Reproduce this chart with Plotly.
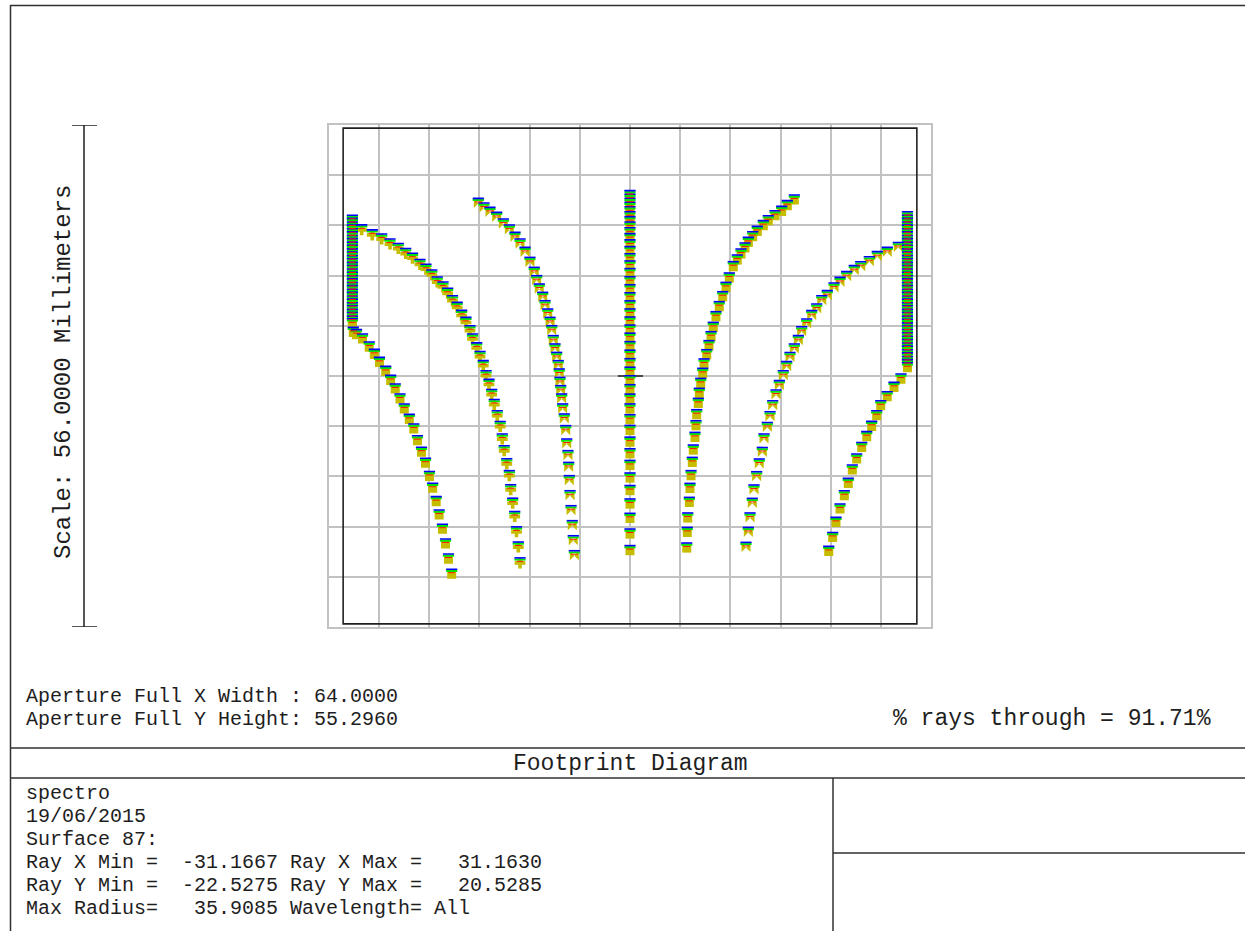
import plotly.graph_objects as go

W, H = 1245, 931

# ---- footprint ray positions on surface 87 (mm) ----
# left clipped edge column
edge_l_x = [-30.97, -30.97, -30.97, -30.97, -30.97, -30.97, -30.97, -30.97,
            -30.97, -30.97, -30.97, -30.97, -30.97, -30.97, -30.97, -30.97,
            -30.97, -30.97, -30.97, -30.97, -30.97, -30.97, -30.97, -30.97,
            -30.97, -30.97, -30.97, -30.97, -30.97, -30.97, -30.97, -30.97]
edge_l_y = [17.45, 17.1, 16.7, 16.35, 15.95, 15.6, 15.2, 14.85, 14.45, 14.1,
            13.7, 13.35, 12.95, 12.6, 12.2, 11.85, 11.45, 11.1, 10.7, 10.35,
            9.95, 9.6, 9.2, 8.85, 8.45, 8.1, 7.7, 7.35, 6.95, 6.6, 6.2, 5.9]

# order 1 (lower left)
ord1_x = [-30.87, -30.51, -29.84, -29.09, -28.52, -27.95, -27.25, -26.70,
          -26.19, -25.66, -25.18, -24.62, -24.12, -23.71, -23.26, -22.81,
          -22.37, -22.01, -21.62, -21.29, -20.92, -20.58, -20.25, -19.89]
ord1_y = [4.94, 4.69, 4.21, 3.31, 2.49, 1.60, 0.59, -0.41, -1.37, -2.49,
          -3.60, -4.76, -5.83, -7.14, -8.42, -9.65, -11.13, -12.44, -13.94,
          -15.43, -17.01, -18.66, -20.34, -22.03]

# order 2 (upper left)
ord2_x = [-29.93, -28.75, -27.70, -26.77, -25.85, -25.02, -24.26, -23.43,
          -22.76, -22.11, -21.50, -20.86, -20.34, -19.80, -19.28, -18.78,
          -18.30, -17.85, -17.57, -17.10, -16.73, -16.37, -16.06, -15.73,
          -15.43, -15.14, -14.81, -14.48, -14.25, -14.03, -13.75, -13.46,
          -13.31, -13.09, -12.86, -12.66, -12.46, -12.27]
ord2_y = [16.38, 15.82, 15.36, 14.80, 14.30, 13.74, 13.22, 12.52, 11.99,
          11.35, 10.56, 10.01, 9.31, 8.48, 7.73, 6.84, 6.06, 5.13, 4.21, 3.21,
          2.25, 1.23, 0.11, -0.86, -1.99, -3.10, -4.35, -5.56, -6.95, -8.26,
          -9.71, -11.04, -12.61, -14.11, -15.60, -17.31, -19.00, -20.77]

# order 3 (inner left)
ord3_x = [-16.92, -16.29, -15.62, -14.87, -14.13, -13.46, -12.83, -12.27,
          -11.71, -11.16, -10.68, -10.41, -10.12, -9.74, -9.48, -9.18, -8.92,
          -8.73, -8.56, -8.37, -8.18, -8.00, -7.89, -7.81, -7.73, -7.62,
          -7.51, -7.33, -7.17, -7.06, -6.92, -6.84, -6.77, -6.69, -6.58,
          -6.44, -6.33, -6.21]
ord3_y = [19.33, 18.82, 18.33, 17.77, 17.03, 16.37, 15.54, 14.80, 13.87,
          12.75, 11.64, 10.71, 9.78, 8.85, 7.92, 6.99, 6.06, 5.13, 4.02, 3.09,
          2.15, 1.23, 0.30, -0.64, -1.56, -2.49, -3.60, -4.72, -6.02, -7.51,
          -8.81, -10.12, -11.60, -13.28, -14.95, -16.62, -18.30, -19.97]

# order 4 (on axis)
ord4_x = [0.0, 0.0, 0.0, 0.0, 0.0, 0.0, 0.0, 0.0, 0.0, 0.0, 0.0, 0.0, 0.0,
          0.0, 0.0, 0.0, 0.0, 0.0, 0.0, 0.0, 0.0, 0.0, 0.0, 0.0, 0.0, 0.0,
          0.0, 0.0, 0.0, 0.0, 0.0, 0.0, 0.0, 0.0, 0.0, 0.0, 0.0, 0.0, 0.0,
          0.0, 0.0, 0.0]
ord4_y = [20.2, 19.8, 19.35, 18.9, 18.4, 17.85, 17.3, 16.7, 16.05, 15.4,
          14.7, 13.95, 13.15, 12.35, 11.5, 10.6, 9.7, 8.8, 7.9, 7.0, 6.1, 5.2,
          4.3, 3.35, 2.4, 1.45, 0.5, -0.45, -1.45, -2.5, -3.6, -4.8, -6.0,
          -7.3, -8.6, -9.9, -11.3, -12.7, -14.2, -15.8, -17.55, -19.4]

# order 5 (inner right)
ord5_x = [18.33, 17.55, 16.92, 16.18, 15.43, 14.87, 14.20, 13.69, 13.20,
          12.83, 12.38, 11.97, 11.52, 11.08, 10.71, 10.34, 9.96, 9.59, 9.29,
          9.04, 8.81, 8.56, 8.26, 8.11, 7.89, 7.73, 7.62, 7.44, 7.36, 7.25,
          7.06, 6.95, 6.81, 6.69, 6.62, 6.44, 6.39, 6.33]
ord5_y = [19.71, 19.08, 18.44, 17.96, 17.40, 16.85, 16.21, 15.62, 14.98,
          14.36, 13.69, 13.02, 12.27, 11.01, 9.96, 8.92, 7.81, 6.69, 5.50,
          4.46, 3.46, 2.45, 1.42, 0.37, -0.75, -1.86, -2.98, -4.24, -5.47,
          -6.77, -8.18, -9.56, -11.04, -12.46, -14.02, -15.76, -17.37, -19.11]

# order 6 (upper right)
ord6_x = [29.93, 28.70, 27.59, 26.70, 25.74, 25.02, 24.17, 23.43, 22.76,
          22.01, 21.39, 20.83, 20.27, 19.71, 19.15, 18.78, 18.33, 17.85,
          17.48, 17.10, 16.66, 16.29, 15.92, 15.62, 15.32, 14.95, 14.76,
          14.42, 14.13, 13.83, 13.64, 13.39, 13.20, 12.94]
ord6_y = [14.42, 13.87, 13.39, 12.83, 12.27, 11.83, 11.16, 10.52, 9.90, 9.04,
          8.48, 7.55, 6.81, 5.88, 5.02, 4.02, 3.09, 2.15, 1.12, 0.11, -1.00,
          -2.04, -3.24, -4.46, -5.66, -6.95, -8.45, -9.74, -11.16, -12.64,
          -14.13, -15.76, -17.37, -19.04]

# right clipped edge column
edge_r_x = [30.95, 30.95, 30.95, 30.95, 30.95, 30.95, 30.95, 30.95, 30.95,
            30.95, 30.95, 30.95, 30.95, 30.95, 30.95, 30.95, 30.95, 30.95,
            30.95, 30.95, 30.95, 30.95, 30.95, 30.95, 30.95, 30.95, 30.95,
            30.95, 30.95, 30.95, 30.95, 30.95, 30.95, 30.95, 30.95, 30.95,
            30.95, 30.95, 30.95, 30.95, 30.95, 30.95, 30.95, 30.95, 30.95,
            30.95]
edge_r_y = [17.85, 17.45, 17.1, 16.7, 16.35, 15.95, 15.6, 15.2, 14.85, 14.45,
            14.1, 13.7, 13.35, 12.95, 12.6, 12.2, 11.85, 11.45, 11.1, 10.7,
            10.35, 9.95, 9.6, 9.2, 8.85, 8.45, 8.1, 7.7, 7.35, 6.95, 6.6, 6.2,
            5.85, 5.45, 5.1, 4.7, 4.35, 3.95, 3.6, 3.2, 2.85, 2.45, 2.1, 1.7,
            1.35, 1.0]

# order 7 (lower right)
ord7_x = [30.23, 29.45, 28.70, 27.97, 27.52, 26.96, 26.41, 25.85, 25.29,
          24.80, 24.35, 23.91, 23.43, 22.98, 22.61, 22.17]
ord7_y = [-0.26, -1.19, -2.23, -3.24, -4.35, -5.54, -6.69, -7.89, -9.18,
          -10.41, -11.90, -13.28, -14.76, -16.25, -17.93, -19.49]

# ---- text ----
scale_label = "Scale: 56.0000 Millimeters"
aperture_lines = ["Aperture Full X Width : 64.0000",
                  "Aperture Full Y Height: 55.2960"]
rays_through = "% rays through = 91.71%"
title_text = "Footprint Diagram"
info_lines = ["spectro",
              "19/06/2015",
              "Surface 87:",
              "Ray X Min =  -31.1667 Ray X Max =   31.1630",
              "Ray Y Min =  -22.5275 Ray Y Max =   20.5285",
              "Max Radius=   35.9085 Wavelength= All"]

APER_HALF_X = 32.0
APER_HALF_Y = 27.648
GRID_STEP = 5.6
X_HALF = 33.6
Y_HALF = 28.0

# plot box in screen pixels
PLOT_L, PLOT_R = 328.8, 931.2
PLOT_T, PLOT_B = 125.0, 627.0
PX = (2 * Y_HALF) / (PLOT_B - PLOT_T)   # mm per screen pixel

OLIVE = "#c6bd00"
GREEN = "#00e600"
BLUE = "#0000ff"
RED = "#ff1a00"
FONT = "Liberation Mono"
INK = "#1e1e1e"


def px_x(p):
    return p / W


def px_y(p):
    return 1 - p / H


curves = [
    (edge_l_x, edge_l_y, "square"),
    (ord1_x, ord1_y, "square"),
    (ord2_x, ord2_y, "cross"),
    (ord3_x, ord3_y, "bowtie"),
    (ord4_x, ord4_y, "square"),
    (ord5_x, ord5_y, "square"),
    (ord6_x, ord6_y, "bowtie"),
    (edge_r_x, edge_r_y, "square"),
    (ord7_x, ord7_y, "square"),
]

fig = go.Figure()


def add_layer(xs, ys, dy_px, marker):
    fig.add_trace(go.Scatter(
        x=xs, y=[v + dy_px * PX for v in ys], mode="markers",
        marker=marker, hoverinfo="skip", showlegend=False))


# body of each spot symbol
for xs, ys, sym in curves:
    add_layer(xs, ys, -0.8, dict(symbol=sym, size=9, color=OLIVE,
                                 line=dict(width=0)))
# wavelength colour bands on top of each spot
for xs, ys, sym in curves:
    add_layer(xs, ys, 2.6, dict(symbol="line-ew", size=8,
                                line=dict(color=GREEN, width=2)))
for xs, ys, sym in curves:
    add_layer(xs, ys, 4.3, dict(symbol="line-ew", size=8,
                                line=dict(color=BLUE, width=1.6)))
for xs, ys, sym in curves:
    add_layer(xs, ys, 0.8, dict(symbol="line-ew", size=5,
                                line=dict(color=RED, width=1)))

shapes = []
# aperture outline
shapes.append(dict(type="rect", xref="x", yref="y", layer="between",
                   x0=-APER_HALF_X, x1=APER_HALF_X,
                   y0=-APER_HALF_Y, y1=APER_HALF_Y,
                   line=dict(color="#202020", width=1.6)))
# centre cross
shapes.append(dict(type="line", xref="x", yref="y", layer="between",
                   x0=-1.35, x1=1.45, y0=0, y1=0,
                   line=dict(color="#202020", width=1.5)))
shapes.append(dict(type="line", xref="x", yref="y", layer="between",
                   x0=0, x1=0, y0=-1.4, y1=1.4,
                   line=dict(color="#202020", width=1.5)))

# scale bar, 56 mm tall in plot units
bar_x = px_x(84)
shapes.append(dict(type="line", xref="paper", yref="y", x0=bar_x, x1=bar_x,
                   y0=-Y_HALF, y1=Y_HALF, line=dict(color=INK, width=1.5)))
for yy in (-Y_HALF, Y_HALF):
    shapes.append(dict(type="line", xref="paper", yref="y",
                       x0=px_x(72), x1=px_x(97), y0=yy, y1=yy,
                       line=dict(color=INK, width=1.5)))

# page frame and title block rules
frame = dict(color="#303030", width=1.5)
shapes.append(dict(type="line", xref="paper", yref="paper",
                   x0=px_x(10), x1=1, y0=px_y(5.5), y1=px_y(5.5), line=frame))
shapes.append(dict(type="line", xref="paper", yref="paper",
                   x0=px_x(10.5), x1=px_x(10.5), y0=0, y1=px_y(5), line=frame))
shapes.append(dict(type="line", xref="paper", yref="paper",
                   x0=px_x(10), x1=1, y0=px_y(748), y1=px_y(748), line=frame))
shapes.append(dict(type="line", xref="paper", yref="paper",
                   x0=px_x(10), x1=1, y0=px_y(778), y1=px_y(778), line=frame))
shapes.append(dict(type="line", xref="paper", yref="paper",
                   x0=px_x(833), x1=px_x(833), y0=0, y1=px_y(778), line=frame))
shapes.append(dict(type="line", xref="paper", yref="paper",
                   x0=px_x(833), x1=1, y0=px_y(853), y1=px_y(853), line=frame))

FS_BLOCK = 20     # stacked lines
FS_SINGLE = 23    # stand-alone labels


def keep_spaces(s):
    return s.replace("  ", "\u00a0\u00a0")


def label(text, x, y, size, xanchor="left", angle=0):
    return dict(text=keep_spaces(text), x=px_x(x), y=px_y(y),
                xref="paper", yref="paper", textangle=angle,
                showarrow=False, xanchor=xanchor, yanchor="middle",
                font=dict(family=FONT, size=size, color=INK))


annotations = [label(scale_label, 63, 372, FS_SINGLE + 1, "center", -90)]
for i, line in enumerate(aperture_lines):
    annotations.append(label(line, 24, 696 + 23 * i, FS_BLOCK))
annotations.append(label(rays_through, 1213, 719, FS_SINGLE, "right"))
annotations.append(label(title_text, 630, 763.5, FS_SINGLE, "center"))
for i, line in enumerate(info_lines):
    annotations.append(label(line, 24, 793 + 23 * i, FS_BLOCK))

axis_common = dict(showgrid=True, gridcolor="#c2c2c2", gridwidth=2,
                   zeroline=False, showticklabels=False, ticks="",
                   showline=True, mirror=True, linecolor="#c2c2c2",
                   linewidth=2, tick0=0, dtick=GRID_STEP, fixedrange=True)

fig.update_layout(
    width=W, height=H,
    margin=dict(l=0, r=0, t=0, b=0),
    paper_bgcolor="white", plot_bgcolor="white",
    xaxis=dict(range=[-X_HALF, X_HALF],
               domain=[px_x(PLOT_L), px_x(PLOT_R)], **axis_common),
    yaxis=dict(range=[-Y_HALF, Y_HALF],
               domain=[px_y(PLOT_B), px_y(PLOT_T)], **axis_common),
    shapes=shapes,
    annotations=annotations,
    showlegend=False,
)

fig.write_html("out.html")
